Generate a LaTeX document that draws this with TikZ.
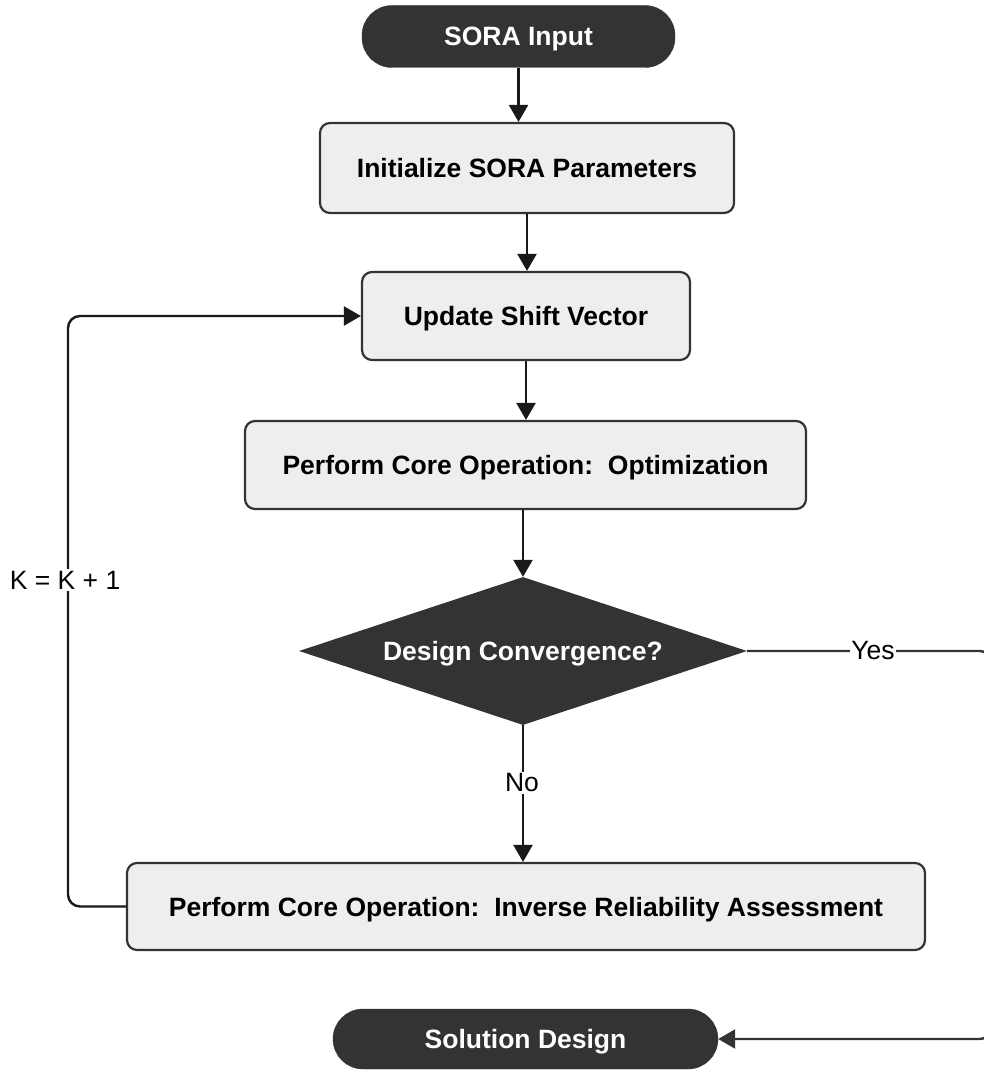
\documentclass[tikz,border=0pt]{standalone}
\usepackage{fontspec}
\setmainfont{Liberation Sans}
\usetikzlibrary{shapes.geometric,arrows.meta}
\definecolor{dark}{HTML}{333333}
\definecolor{light}{HTML}{EEEEEE}
\frenchspacing
\begin{document}
\begin{tikzpicture}[x=1pt,y=-1pt,
  bigfont/.style={font=\fontsize{26.5}{30}\selectfont\bfseries, text height=19pt, text depth=0pt},
  term/.style={bigfont, draw=dark, fill=dark, text=white,
    rounded corners=30pt, minimum height=62pt, inner sep=0pt},
  proc/.style={bigfont, draw=dark, line width=2.2pt, fill=light, rounded corners=10pt, inner sep=0pt},
  decision/.style={bigfont, diamond, aspect=3.03, fill=dark, text=white, inner sep=0pt,
    minimum width=448pt, minimum height=148pt},
  arr/.style={draw=black!90, line width=2.4pt, -{Triangle[length=17pt,width=19pt]}},
  lbl/.style={fill=white, inner sep=1.5pt, font=\fontsize{26.5}{30}\selectfont}]
\useasboundingbox (0,0) rectangle (984,1070);

\node[term, minimum width=313pt] (in) at (518.5,36.5) {SORA Input};
\node[proc, minimum width=414pt, minimum height=90pt] (init) at (527,168) {Initialize SORA Parameters};
\node[proc, minimum width=328pt, minimum height=88pt] (upd) at (526,316) {Update Shift Vector};
\node[proc, minimum width=561pt, minimum height=88pt] (opt) at (525.5,465) {Perform Core Operation:\ \ Optimization};
\node[decision] (dec) at (523,651) {Design Convergence?};
\node[proc, minimum width=798pt, minimum height=87pt] (inv) at (526,906.5) {Perform Core Operation:\ \ Inverse Reliability Assessment};
\node[term, minimum width=385pt, minimum height=60pt] (sol) at (525.5,1039) {Solution Design};

\coordinate (fb) at (68,580);
\coordinate (rc) at (990,845);

\draw[arr] (in.south) -- (in.south |- init.north);
\draw[arr] (init.south) -- (init.south |- upd.north);
\draw[arr] (upd.south) -- (upd.south |- opt.north);
\draw[arr] (dec.north |- opt.south) -- (dec.north);
\draw[arr] (dec.south) -- (dec.south |- inv.north);
\draw[arr, rounded corners=12pt] (inv.west) -| (fb) |- (upd.west);
\draw[arr, draw=dark, rounded corners=10pt] (dec.east) -| (rc) |- (sol.east);

\node[lbl] (k) at (65,580) {K = K + 1};
\node[lbl] (no) at (522,783) {No};
\node[lbl] (yes) at (873,651) {Yes};
\end{tikzpicture}
\end{document}
